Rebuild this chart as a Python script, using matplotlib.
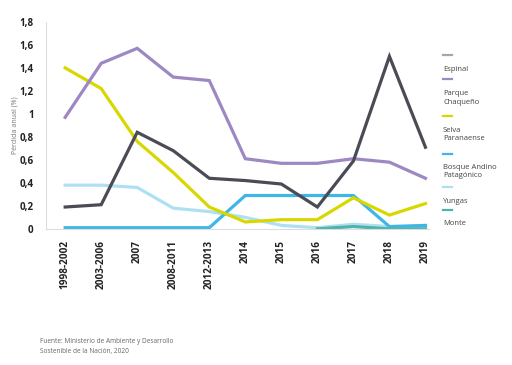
import matplotlib
matplotlib.use('Agg')
import matplotlib.pyplot as plt
from matplotlib.lines import Line2D

plt.rcParams['font.family'] = ['Open Sans', 'DejaVu Sans']

periods = ['1998-2002', '2003-2006', '2007', '2008-2011', '2012-2013', '2014',
           '2015', '2016', '2017', '2018', '2019']
espinal = [0.19, 0.21, 0.84, 0.68, 0.44, 0.42, 0.39, 0.19, 0.59, 1.50, 0.71]
chaqueno = [0.97, 1.44, 1.57, 1.32, 1.29, 0.61, 0.57, 0.57, 0.61, 0.58, 0.44]
selva = [1.40, 1.22, 0.76, 0.49, 0.19, 0.06, 0.08, 0.08, 0.27, 0.12, 0.22]
bosque = [0.01, 0.01, 0.01, 0.01, 0.01, 0.29, 0.29, 0.29, 0.29, 0.02, 0.03]
yungas = [0.38, 0.38, 0.36, 0.18, 0.15, 0.10, 0.03, 0.01, 0.04, 0.02, 0.02]
monte_idx = [7, 8, 9, 10]
monte = [0.0, 0.02, 0.0, 0.0]

names = ['Espinal', 'Parque\nChaqueño', 'Selva\nParanaense', 'Bosque Andino\nPatagónico', 'Yungas', 'Monte']
colors = ['#4b4b55', '#9d88c3', '#d8d800', '#3fb6e8', '#aee0f4', '#4fb3aa']
legend_colors = ['#a6a6a6'] + colors[1:]

fig = plt.figure(figsize=(5.12, 3.65), dpi=100)
ax = fig.add_axes([0.09, 0.373, 0.748, 0.567])

x = list(range(len(periods)))
lw = 2.3
ax.plot(x, yungas, color=colors[4], lw=lw, solid_joinstyle='miter')
ax.plot(x, bosque, color=colors[3], lw=lw, solid_joinstyle='miter')
ax.plot(monte_idx, monte, color=colors[5], lw=lw, solid_joinstyle='miter')
ax.plot(x, selva, color=colors[2], lw=lw, solid_joinstyle='miter')
ax.plot(x, chaqueno, color=colors[1], lw=lw, solid_joinstyle='miter')
ax.plot(x, espinal, color=colors[0], lw=lw, solid_joinstyle='miter')

ax.set_xlim(-0.53, 10.1)
ax.set_ylim(0, 1.8)
yt = [0, 0.2, 0.4, 0.6, 0.8, 1.0, 1.2, 1.4, 1.6, 1.8]
ax.set_yticks(yt)
ax.set_yticklabels([('%g' % v).replace('.', ',') for v in yt], fontsize=7, fontweight='bold', color='#222222')
ax.set_xticks(x)
ax.set_xticklabels(periods, rotation=90, fontsize=7.2, fontweight='bold', color='#222222')
ax.tick_params(length=0, pad=8)
ax.tick_params(axis='y', pad=9)
for s in ['top', 'right']:
    ax.spines[s].set_visible(False)
for s in ['left', 'bottom']:
    ax.spines[s].set_color('#dddddd')
    ax.spines[s].set_linewidth(0.8)

fig.text(15/512, 1-125/365, 'Pérdida anual (%)', rotation=90, fontsize=5, color='#777777',
         ha='center', va='center')

# legend
marks = [55, 79, 116, 154, 187, 210]
labels_y = [66, 90, 127, 164, 198, 220]
for nm, c, my, ly in zip(names, legend_colors, marks, labels_y):
    fig.add_artist(Line2D([443/512, 452/512], [1-my/365, 1-my/365], color=c, lw=1.6))
    fig.text(443/512, 1-ly/365, nm, fontsize=5.5, color='#444444', va='top', ha='left', linespacing=1.3)

fig.text(40/512, 1-338/365, 'Fuente: Ministerio de Ambiente y Desarrollo\nSostenible de la Nación, 2020',
         fontsize=4.7, color='#666666', va='top', ha='left', linespacing=1.5)

fig.savefig('out.png', dpi=100)
